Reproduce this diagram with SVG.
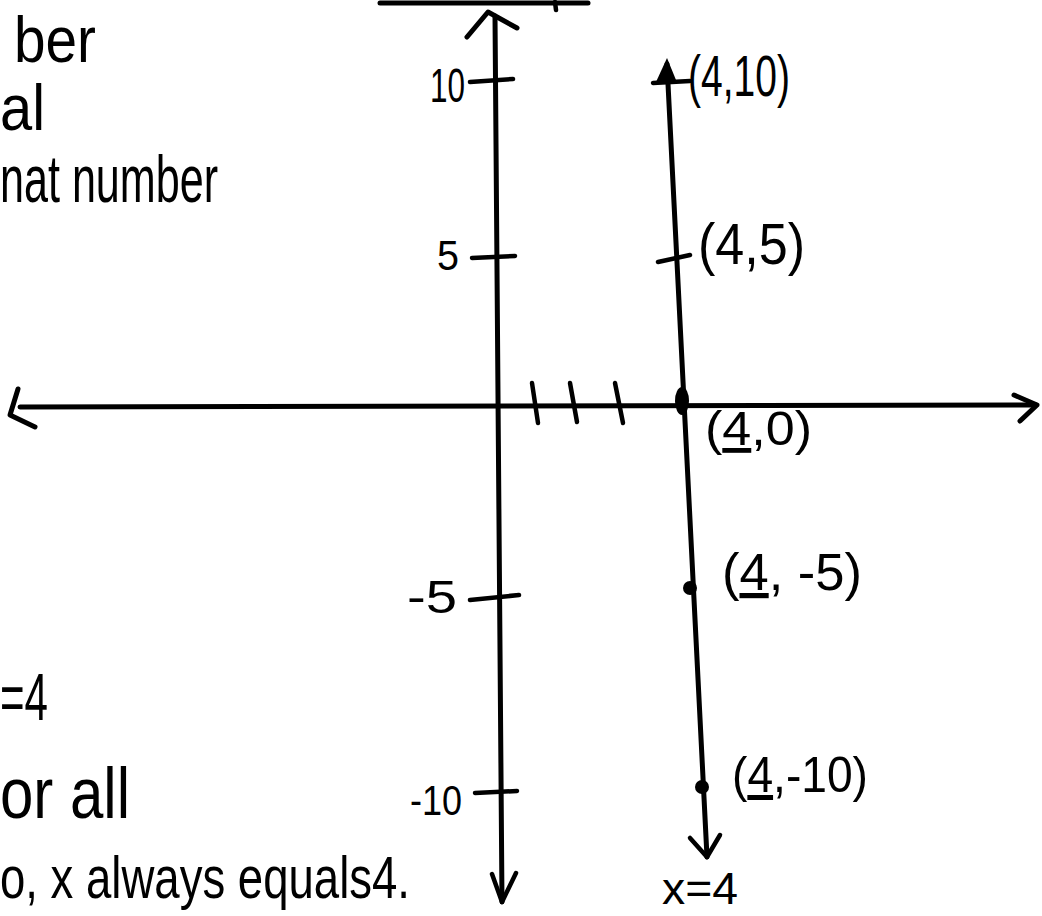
<svg xmlns="http://www.w3.org/2000/svg" width="1042" height="916" viewBox="0 0 1042 916">
<style>
.ln{stroke:#000;stroke-width:4.5;fill:none;stroke-linecap:round;stroke-linejoin:round}
.ax{stroke:#000;stroke-width:5;fill:none;stroke-linecap:round;stroke-linejoin:round}
.t{font-family:"Liberation Sans","DejaVu Sans",sans-serif;fill:#000}
.dot{fill:#000}
</style>
<rect width="1042" height="916" fill="#fff"/>
<g id="top-underline">
<path class="ax" d="M380 3 L588 3"/>
<path class="ln" d="M555 2 L556 10"/>
</g>
<g id="notes">
<text class="t" x="14" y="62" font-size="64" textLength="82" lengthAdjust="spacingAndGlyphs">ber</text>
<text class="t" x="0" y="130" font-size="64" textLength="45" lengthAdjust="spacingAndGlyphs">al</text>
<text class="t" x="0" y="202" font-size="66" textLength="218" lengthAdjust="spacingAndGlyphs">nat number</text>
<text class="t" x="0" y="720" font-size="66" textLength="48" lengthAdjust="spacingAndGlyphs">=4</text>
<text class="t" x="0" y="818" font-size="72" textLength="130" lengthAdjust="spacingAndGlyphs">or all</text>
<text class="t" x="0" y="898" font-size="60" textLength="410" lengthAdjust="spacingAndGlyphs">o, x always equals4.</text>
</g>
<g id="connectors">
<g id="y-axis">
<path class="ax" d="M495 16 L502 902"/>
<path class="ax" d="M467 37 L488 12 L517 28"/>
<path class="ln" d="M492 874 L502 902 L516 873"/>
</g>
<g id="x-axis">
<path class="ax" d="M20 407 L1036 405"/>
<path class="ax" d="M18 389 L10 415 L35 427"/>
<path class="ax" d="M1014 395 L1037 405 L1020 421"/>
</g>
<g id="y-ticks">
<path class="ln" d="M470 82 L513 79"/>
<path class="ln" d="M472 258 L515 256"/>
<path class="ln" d="M470 600 L519 595"/>
<path class="ln" d="M475 793 L517 791"/>
</g>
<g id="x-ticks">
<path class="ln" d="M532 383 L538 423"/>
<path class="ln" d="M570 383 L577 422"/>
<path class="ln" d="M615 383 L623 423"/>
</g>
<g id="line-x4">
<path class="ax" d="M667 64 L707 857"/>
<path class="dot" d="M667 58 L656 82 L676 80 Z"/>
<path class="ln" d="M653 83 L690 81"/>
<path class="ln" d="M690 838 L707 857 L720 835"/>
</g>
</g>
<g id="y-labels">
<text class="t" x="430" y="102" font-size="48" textLength="35" lengthAdjust="spacingAndGlyphs">10</text>
<text class="t" x="437" y="270" font-size="42" textLength="22" lengthAdjust="spacingAndGlyphs">5</text>
<text class="t" x="407" y="613" font-size="46" textLength="50" lengthAdjust="spacingAndGlyphs">-5</text>
<text class="t" x="410" y="815" font-size="42" textLength="52" lengthAdjust="spacingAndGlyphs">-10</text>
</g>
<g id="pt-4-10">
<text class="t" x="688" y="96" font-size="58" textLength="102" lengthAdjust="spacingAndGlyphs">(4,10)</text>
</g>
<g id="pt-4-5">
<path class="ln" d="M658 262 L690 255"/>
<text class="t" x="698" y="264" font-size="58" textLength="107" lengthAdjust="spacingAndGlyphs">(4,5)</text>
</g>
<g id="pt-4-0">
<ellipse class="dot" cx="682" cy="401" rx="7" ry="14"/>
<text class="t" x="705" y="445" font-size="48" textLength="107" lengthAdjust="spacingAndGlyphs">(<tspan text-decoration="underline">4</tspan>,0)</text>
</g>
<g id="pt-4-m5">
<circle class="dot" cx="690" cy="588" r="7"/>
<text class="t" x="722" y="590" font-size="52" textLength="140" lengthAdjust="spacingAndGlyphs">(<tspan text-decoration="underline">4</tspan>, -5)</text>
</g>
<g id="pt-4-m10">
<circle class="dot" cx="702" cy="787" r="7"/>
<text class="t" x="732" y="792" font-size="50" textLength="136" lengthAdjust="spacingAndGlyphs">(<tspan text-decoration="underline">4</tspan>,-10)</text>
</g>
<g id="label-x4">
<text class="t" x="662" y="904" font-size="44" textLength="76" lengthAdjust="spacingAndGlyphs">x=4</text>
</g>
</svg>
